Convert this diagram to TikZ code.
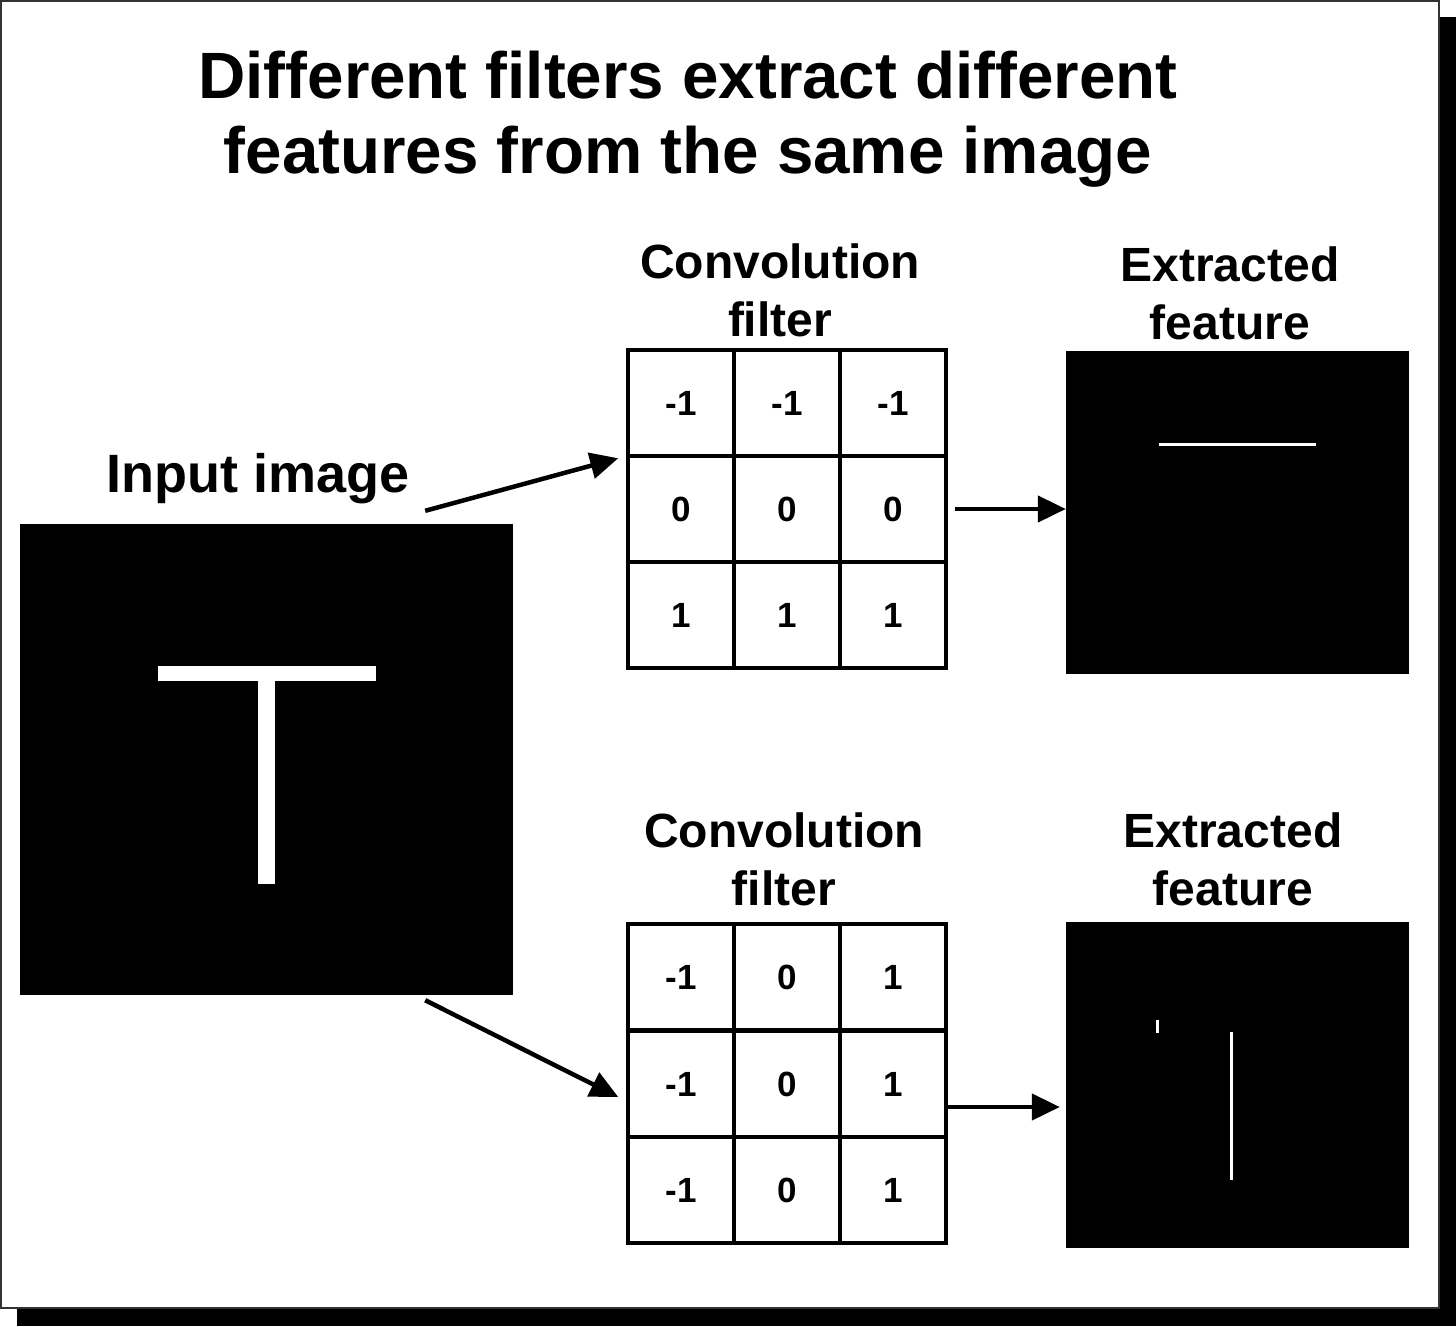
\documentclass[tikz,border=0pt]{standalone}
\usepackage{fontspec}
\setmainfont{Liberation Sans}
\usetikzlibrary{arrows.meta,positioning}

\begin{document}
\begin{tikzpicture}[
    x=1pt, y=-1pt,
    title/.style={align=center, font=\fontsize{65.5}{75}\selectfont\bfseries},
    lbl/.style={align=center, font=\fontsize{48}{58}\selectfont\bfseries},
    cell/.style={draw=black, line width=3.5pt, minimum size=106pt, inner sep=0pt, font=\fontsize{35}{40}\selectfont\bfseries},
    img/.style={fill=black, inner sep=0pt},
    arr/.style={-{Triangle[length=28pt,width=26pt]}, line width=4.5pt, draw=black}
    ]
    \useasboundingbox (0,0) rectangle (1456,1326);
    % card with shadow
    \fill[black] (17,17) rectangle (1456,1326);
    \draw[fill=white, draw=black!80, line width=2.5pt] (1,1) rectangle (1439,1308);

    \node[title] (head) at (688,119) {Different filters extract different\\features from the same image};

    % input image
    \node[img, minimum width=493pt, minimum height=471pt] (input) at (266.5,759.5) {};
    \node[lbl, font=\fontsize{54}{60}\selectfont\bfseries] (inlbl) at (258,479) {Input image};
    \fill[white] (158,666) rectangle (376,681);
    \fill[white] (258,681) rectangle (275,884);

    % first filter
    \node[lbl] (conv1) at (780,290) {Convolution\\filter};
    \node[cell] (t11) at (681,403) {-1};
    \node[cell] (t12) at (787,403) {-1};
    \node[cell] (t13) at (893,403) {-1};
    \node[cell] (t21) at (681,509) {0};
    \node[cell] (t22) at (787,509) {0};
    \node[cell] (t23) at (893,509) {0};
    \node[cell] (t31) at (681,615) {1};
    \node[cell] (t32) at (787,615) {1};
    \node[cell] (t33) at (893,615) {1};

    \node[lbl] (ext1) at (1230,293) {Extracted\\feature};
    \node[img, minimum width=343pt, minimum height=323pt] (feat1) at (1237.5,512.5) {};
    \draw[white, line width=3pt] (1159,444) -- (1316,444);

    % second filter
    \node[lbl] (conv2) at (784,859) {Convolution\\filter};
    \node[cell] (b11) at (681,977) {-1};
    \node[cell] (b12) at (787,977) {0};
    \node[cell] (b13) at (893,977) {1};
    \node[cell] (b21) at (681,1084) {-1};
    \node[cell] (b22) at (787,1084) {0};
    \node[cell] (b23) at (893,1084) {1};
    \node[cell] (b31) at (681,1190) {-1};
    \node[cell] (b32) at (787,1190) {0};
    \node[cell] (b33) at (893,1190) {1};

    \node[lbl] (ext2) at (1233,859) {Extracted\\feature};
    \node[img, minimum width=343pt, minimum height=326pt] (feat2) at (1237.5,1085) {};
    \draw[white, line width=3pt] (1157,1020) -- (1157,1033);
    \draw[white, line width=3pt] (1231,1032) -- (1231,1180);

    % arrows
    \draw[arr] ([xshift=-88pt,yshift=13pt]input.north east) -- ([xshift=-8pt,yshift=-4pt]t21.north west);
    \draw[arr] ([xshift=-88pt,yshift=-5pt]input.south east) -- ([xshift=-8pt,yshift=-13pt]b21.west);
    \draw[arr] ([xshift=7pt]t23.east) -- (t23.east -| feat1.west);
    \draw[arr] ([yshift=-23pt]b23.east) -- ([xshift=-6pt,yshift=-23pt]b23.east -| feat2.west);
  \end{tikzpicture}
\end{document}
